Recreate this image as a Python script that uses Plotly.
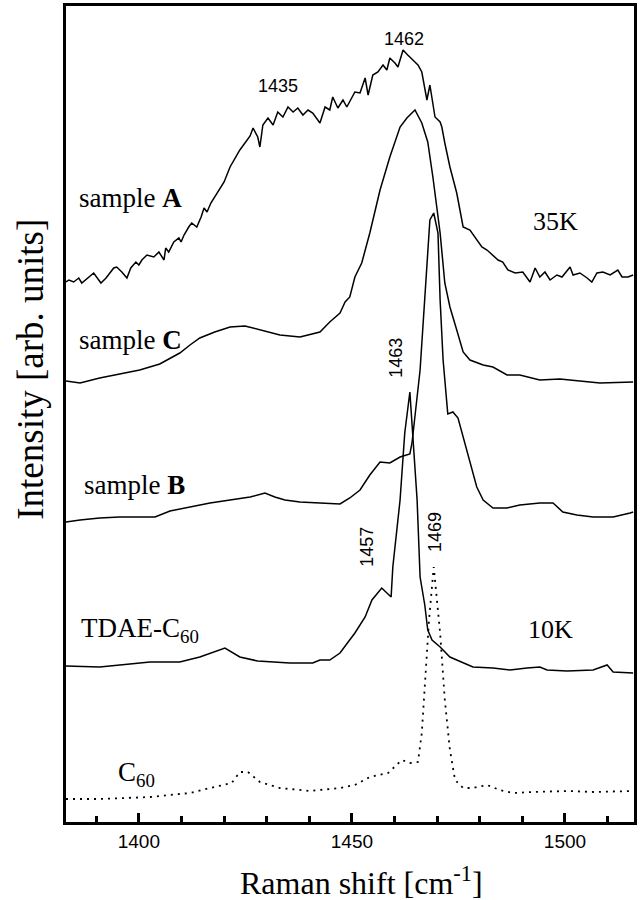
import plotly.graph_objects as go

# Raman shift (cm^-1) and intensity (arb. units, offset spectra)
A_x = [1382.9,1383.6,1384.7,1385.9,1386.6,1388.3,1389.4,1391.1,1392.3,1394.1,
       1394.8,1396.0,1397.2,1398.1,1399.3,1400.0,1400.7,1401.9,1403.5,1404.7,
       1405.9,1406.3,1407.0,1408.2,1409.4,1409.9,1410.6,1411.7,1412.4,1413.6,
       1414.6,1415.3,1416.0,1416.9,1417.6,1418.3,1419.2,1420.0,1421.4,1423.7,
       1426.1,1426.8,1427.9,1428.4,1429.1,1430.3,1431.5,1432.6,1433.8,1435.0,
       1436.2,1437.3,1438.5,1439.7,1440.8,1442.5,1443.7,1444.8,1445.5,1446.7,
       1447.9,1448.8,1450.7,1451.9,1453.1,1453.8,1454.9,1456.1,1457.3,1458.2,
       1458.9,1460.1,1460.8,1462.0,1463.1,1464.3,1465.5,1466.4,1467.6,1468.3,
       1469.5,1470.7,1471.1,1471.8,1473.0,1474.6,1476.1,1477.7,1479.3,1480.5,
       1481.7,1482.9,1484.3,1485.4,1486.6,1488.3,1490.1,1491.8,1493.0,1494.1,
       1495.3,1496.5,1498.1,1499.3,1501.2,1501.9,1503.5,1505.2,1506.3,1507.5,
       1508.9,1510.6,1512.4,1513.4,1514.8,1516.0]
A_y = [540,542,540,544,539,545,549,539,544,554,
       555,550,544,554,560,557,562,567,565,570,
       562,574,570,580,584,580,587,595,599,595,
       605,614,610,619,624,629,635,640,655,672,
       686,694,685,675,697,704,697,710,705,715,
       710,714,707,712,709,699,715,712,725,714,
       722,715,730,729,744,727,747,750,757,752,
       764,759,755,772,767,762,757,750,722,737,
       705,700,695,679,655,629,595,592,582,575,
       572,567,562,560,552,549,550,540,554,545,
       550,542,547,545,555,547,549,544,540,549,
       550,547,552,545,545,547]

C_x = [1382.9,1386.2,1390.8,1395.5,1400.2,1404.9,1409.6,1412.0,1414.3,1417.8,
       1421.4,1424.9,1428.4,1433.1,1437.8,1442.5,1444.8,1447.2,1448.4,1449.5,
       1450.7,1452.3,1454.2,1456.6,1458.9,1461.3,1462.9,1464.8,1466.4,1467.8,
       1469.0,1470.7,1471.8,1473.0,1474.6,1476.1,1477.7,1480.8,1483.1,1486.4,
       1489.4,1494.1,1498.8,1502.8,1508.2,1516.0]
C_y = [441,439,444,448,452,458,469,477,484,490,
       495,496,492,487,485,490,500,509,520,525,
       545,559,589,632,665,695,704,712,699,680,
       645,589,539,515,492,470,462,457,455,447,
       447,442,443,441,439,440]

B_x = [1382.9,1386.2,1390.8,1395.5,1400.2,1403.8,1407.3,1412.0,1416.7,1421.4,
       1426.1,1429.6,1431.9,1434.3,1437.8,1442.5,1447.2,1449.5,1451.9,1454.2,
       1456.6,1458.9,1461.3,1463.6,1464.1,1466.0,1467.1,1468.3,1469.2,1470.2,
       1470.7,1471.4,1472.5,1473.7,1474.9,1477.0,1479.3,1480.8,1483.1,1486.4,
       1489.4,1494.1,1497.2,1499.5,1502.8,1506.6,1511.3,1515.3,1516.0]
B_y = [300,302,304,305,305,305,311,315,319,322,
       325,329,325,322,320,319,318,324,332,347,
       360,359,365,368,379,452,522,602,609,589,
       522,462,408,410,404,372,335,322,314,314,
       317,319,319,310,307,305,305,309,310]

TDAE_x = [1382.9,1390.8,1397.9,1402.6,1409.6,1414.3,1420.2,1423.7,1427.9,1435.4,
          1440.8,1442.5,1444.8,1447.2,1450.7,1453.1,1454.7,1457.0,1459.2,1459.6,
          1461.3,1462.4,1463.6,1464.3,1465.3,1466.0,1467.1,1467.8,1468.8,1470.7,
          1473.0,1474.6,1478.4,1483.1,1487.1,1491.1,1494.1,1495.8,1500.5,1506.6,
          1509.9,1511.3,1516.0]
TDAE_y = [156,155,158,160,160,165,174,165,161,159,
          159,162,162,169,189,205,222,234,225,255,
          322,389,430,389,322,245,217,192,182,175,
          165,162,155,154,152,154,155,152,151,152,
          157,150,149]

C60_x = [1382.9,1390.8,1402.6,1412.0,1416.7,1421.8,1423.7,1425.6,1428.4,1433.1,
         1440.1,1447.2,1450.7,1451.9,1454.2,1458.5,1461.7,1463.6,1465.5,1466.4,
         1467.4,1468.1,1469.2,1470.0,1470.7,1471.8,1473.0,1474.2,1476.1,1478.4,
         1481.7,1484.7,1487.8,1492.5,1500.5,1506.6,1516.0]
C60_y = [23,23,25,29,34,39,50,50,40,34,
         31,34,37,40,45,49,62,59,60,89,
         155,202,255,222,189,122,72,42,34,34,
         37,32,29,30,31,30,31]

tick_vals = [1400, 1450, 1500]
tick_text = ["1400", "1450", "1500"]

SERIF = "Liberation Serif, Times New Roman, serif"
SANS = "Liberation Sans, Arial, sans-serif"

fig = go.Figure()
line = dict(color="black", width=1.5)
for xs, ys in [(A_x, A_y), (C_x, C_y), (B_x, B_y), (TDAE_x, TDAE_y)]:
    fig.add_trace(go.Scatter(x=xs, y=ys, mode="lines", line=line, showlegend=False))
fig.add_trace(go.Scatter(x=C60_x, y=C60_y, mode="lines",
                         line=dict(color="black", width=1.8, dash="2px,5px"),
                         showlegend=False))

def ann(text, x, y, size, font=SERIF, xanchor="center", angle=0, xref="x", yref="y"):
    fig.add_annotation(x=x, y=y, text=text, showarrow=False, xanchor=xanchor,
                       yanchor="middle", textangle=angle, xref=xref, yref=yref,
                       font=dict(family=font, size=size, color="black"))

ann("1435", 1432.6, 736, 18, SANS)
ann("1462", 1462.2, 783, 18, SANS)
ann("35K", 1497.7, 601, 26)
ann("sample <b>A</b>", 1385.5, 624, 27, xanchor="left")
ann("sample <b>C</b>", 1385.5, 482, 27, xanchor="left")
ann("sample <b>B</b>", 1386.7, 337, 27, xanchor="left")
ann("1463", 1460.3, 464, 18, SANS, angle=-90)
ann("1457", 1453.5, 275, 18, SANS, angle=-90)
ann("1469", 1469.5, 290, 18, SANS, angle=-90)
ann("TDAE-C<sub>60</sub>", 1386.0, 192, 27, xanchor="left")
ann("10K", 1496.5, 193, 26)
ann("C<sub>60</sub>", 1394.6, 48, 27, xanchor="left")

# axis titles placed in paper coordinates
ann("Raman shift [cm<sup>-1</sup>]", 0.521, -0.072, 32, xref="paper", yref="paper")
ann("Intensity [arb. units]", -0.064, 0.555, 37, angle=-90, xref="paper", yref="paper")

fig.update_layout(
    width=642, height=900,
    margin=dict(l=66, r=8, t=6, b=78),
    paper_bgcolor="white", plot_bgcolor="white",
    xaxis=dict(range=[1382.9, 1516.2], showgrid=False, zeroline=False,
               automargin=False,
               showline=True, linecolor="black", linewidth=3, mirror=True,
               ticks="inside", ticklen=9, tickwidth=3, tickcolor="black",
               tickvals=tick_vals, ticktext=tick_text,
               tickfont=dict(family=SANS, size=19, color="black"),
               minor=dict(dtick=10, tick0=1400, ticks="inside", ticklen=6,
                          tickwidth=3, tickcolor="black", showgrid=False)),
    yaxis=dict(range=[0, 816], showgrid=False, zeroline=False,
               automargin=False,
               showline=True, linecolor="black", linewidth=3, mirror=True,
               showticklabels=False, ticks=""),
)

fig.write_html("out.html",
               config={"displayModeBar": False},
               post_script="document.body.style.margin='0px';"
                           "document.body.style.overflow='hidden';")
